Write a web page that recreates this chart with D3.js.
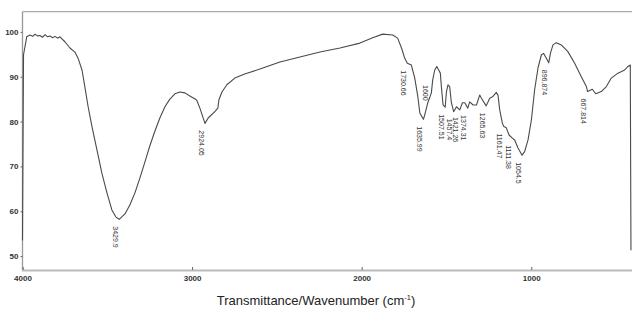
<!DOCTYPE html>
<html>
<head>
<meta charset="utf-8">
<title>FTIR spectrum</title>
<script src="https://cdn.jsdelivr.net/npm/d3@7"></script>
<style>
	body { margin: 0; background: #fff; }
	text { font-family: "Liberation Sans", Arial, sans-serif; }
</style>
</head>
<body>
<div id="chart"></div>
<script>
// spectrum (wavenumber cm-1, transmittance %)
var wavenumber = [4000, 3994, 3975, 3956, 3940, 3926, 3912, 3897, 3882, 3867, 3852, 3838, 3823, 3808, 3793, 3779, 3750, 3720, 3691, 3673, 3649, 3632, 3613, 3590, 3561, 3532, 3502, 3473, 3449, 3429.9, 3396, 3367, 3337, 3308, 3278, 3249, 3219, 3190, 3160, 3131, 3101, 3072, 3042, 3013, 2973, 2954, 2924.05, 2905, 2866, 2848, 2842, 2824, 2795, 2748, 2690, 2600, 2482, 2364, 2246, 2128, 2010, 1935, 1876, 1817, 1788, 1765, 1746, 1730.66, 1707, 1687, 1669, 1657, 1635.99, 1628, 1610, 1589, 1581, 1569, 1557, 1546, 1536, 1530, 1520, 1507.51, 1500, 1491, 1481, 1471, 1457.4, 1441, 1421.26, 1406, 1392, 1374.31, 1363, 1343, 1323, 1304, 1294, 1265.63, 1245, 1226, 1206, 1196, 1186, 1170, 1161.47, 1147, 1131, 1111.38, 1098, 1078, 1054.5, 1039, 1019, 999, 980, 960, 940, 927, 911, 896.874, 887, 872, 852, 823, 784, 744, 705, 675, 667.814, 640, 620, 587, 557, 528, 489, 449, 430, 416, 412];
var transmittance = [53.5, 94.9, 98.9, 99.3, 99.0, 99.5, 99.1, 99.2, 98.8, 99.4, 98.9, 99.1, 98.7, 99.0, 98.6, 98.9, 97.8, 96.4, 95.5, 94.2, 91.5, 87.7, 83.3, 78.8, 73.7, 68.5, 64.1, 60.3, 58.7, 58.2, 59.4, 61.4, 64.1, 67.4, 71.0, 74.6, 77.9, 80.8, 83.3, 85.0, 86.2, 86.6, 86.4, 85.7, 84.8, 83.0, 79.6, 80.8, 82.2, 83.0, 84.8, 86.6, 88.2, 89.7, 90.6, 91.7, 93.3, 94.4, 95.5, 96.4, 97.5, 98.7, 99.5, 99.3, 98.6, 96.4, 94.1, 93.0, 92.6, 89.7, 85.6, 81.9, 80.5, 81.5, 84.2, 86.4, 89.3, 91.5, 92.3, 91.5, 90.8, 87.8, 83.7, 83.2, 86.7, 88.2, 87.8, 84.2, 82.2, 83.3, 82.6, 84.2, 84.2, 83.0, 84.4, 83.7, 83.7, 85.9, 85.2, 83.5, 85.2, 85.6, 86.5, 85.9, 82.6, 79.6, 78.9, 78.6, 77.0, 76.3, 75.9, 74.1, 72.5, 73.3, 75.9, 80.4, 87.1, 92.0, 94.9, 95.2, 94.1, 93.1, 95.2, 97.1, 97.6, 97.1, 95.6, 93.0, 90.0, 87.8, 86.7, 87.2, 86.2, 86.7, 87.8, 89.7, 90.8, 91.5, 92.3, 92.6, 51.3];

var peakWn = [3429.9, 2924.05, 1730.66, 1635.99, 1600, 1507.51, 1457.4, 1421.26, 1374.31, 1265.63, 1161.47, 1111.38, 1054.5, 896.874, 667.814];
var peakText = ["3429.9", "2924.05", "1730.66", "1635.99", "1600", "1507.51", "1457.4", "1421.26", "1374.31", "1265.63", "1161.47", "1111.38", "1054.5", "896.874", "667.814"];

var xTicks = [4000, 3000, 2000, 1000];
var yTicks = [50, 60, 70, 80, 90, 100];

var w = 632, h = 309;
var plotLeft = 22.5, plotRight = 633, plotTop = 11.7, plotBottom = 270;
var fontName = "Liberation Sans, Arial, sans-serif";

var svg = d3.select("#chart").append("svg")
	.attr("width", w)
	.attr("height", h);

var x = d3.scaleLinear().domain([4000, 400]).range([plotLeft, plotRight]);
var y = d3.scaleLinear().domain([46.9, 104.5]).range([plotBottom, plotTop]);

// frame
svg.append("line")
	.attr("x1", plotLeft).attr("x2", w).attr("y1", plotTop).attr("y2", plotTop)
	.attr("stroke", "#aaa").attr("stroke-width", 1.3);
svg.append("line")
	.attr("x1", plotLeft).attr("x2", plotLeft).attr("y1", plotTop).attr("y2", plotBottom)
	.attr("stroke", "#999").attr("stroke-width", 1.3);

// x axis
var xAxis = svg.append("g")
	.attr("transform", "translate(0," + plotBottom + ")")
	.call(d3.axisBottom(x).tickValues(xTicks).tickSize(-3).tickPadding(5).tickFormat(d3.format("d")));
xAxis.select(".domain").attr("stroke", "#bbb").attr("stroke-width", 2.2);
xAxis.selectAll(".tick line").attr("stroke", "#666");
xAxis.selectAll(".tick text")
	.attr("font-size", 8).attr("font-weight", "bold").attr("fill", "#333")
	.attr("font-family", fontName);

// y axis
var yAxis = svg.append("g")
	.attr("transform", "translate(" + plotLeft + ",0)")
	.call(d3.axisLeft(y).tickValues(yTicks).tickSize(2).tickPadding(2));
yAxis.select(".domain").remove();
yAxis.selectAll(".tick line").attr("stroke", "#666");
yAxis.selectAll(".tick text")
	.attr("font-size", 8).attr("font-weight", "bold").attr("fill", "#333")
	.attr("font-family", fontName);

// spectrum
var pts = wavenumber.map(function(d, i) { return [d, transmittance[i]]; });
var line = d3.line()
	.x(function(d) { return x(d[0]); })
	.y(function(d) { return y(d[1]); });

svg.append("path")
	.datum(pts)
	.attr("d", line)
	.attr("fill", "none")
	.attr("stroke", "#4a4a4a")
	.attr("stroke-width", 1.1)
	.attr("stroke-linejoin", "round");

// peak labels, read downward under each band
function valueAt(wn) {
	for (var i = 0; i < wavenumber.length - 1; i++) {
		var a = wavenumber[i], b = wavenumber[i + 1];
		if (wn <= a && wn >= b) {
			var t = (a - wn) / (a - b);
			return transmittance[i] + t * (transmittance[i + 1] - transmittance[i]);
		}
	}
	return transmittance[0];
}

svg.selectAll(".peak")
	.data(peakWn)
	.enter()
	.append("text")
	.attr("class", "peak")
	.attr("transform", function(d) {
		var px = x(d) - 4;
		var py = y(valueAt(d)) + 7;
		if (d === 1600) py = 85;
		return "translate(" + px + "," + py + ") rotate(90)";
	})
	.attr("dy", "0.35em")
	.attr("font-family", fontName)
	.attr("font-size", 7)
	.attr("fill", "#333")
	.text(function(d, i) { return peakText[i]; });

// axis title
var title = svg.append("text")
	.attr("x", 316)
	.attr("y", 305)
	.attr("text-anchor", "middle")
	.attr("font-family", fontName)
	.attr("font-size", 13)
	.attr("fill", "#222");
title.append("tspan").text("Transmittance/Wavenumber (cm");
title.append("tspan").attr("font-size", 7.5).attr("dy", -5).text("-1");
title.append("tspan").attr("dy", 5).text(")");
</script>
</body>
</html>
